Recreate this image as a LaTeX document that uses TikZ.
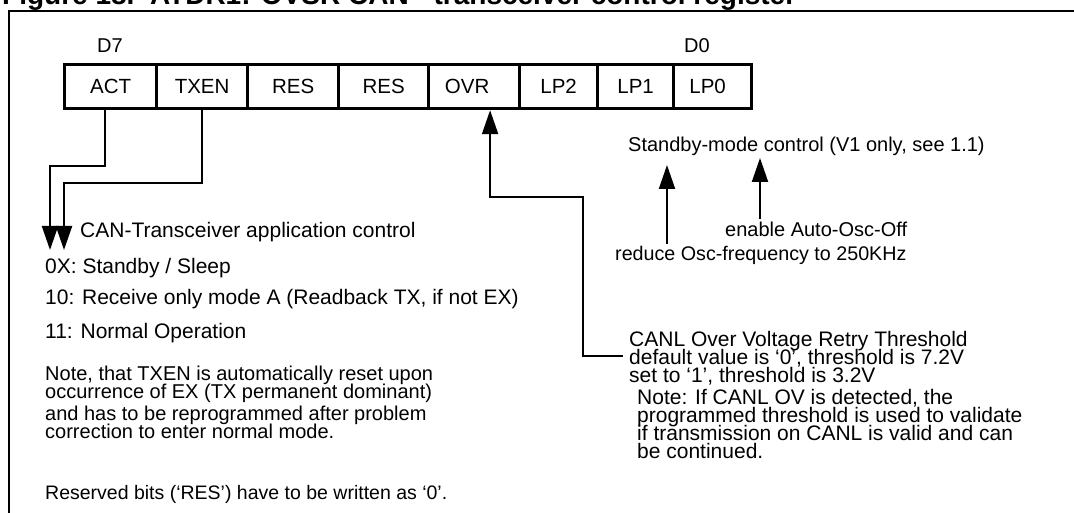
\documentclass[tikz,border=0pt]{standalone}
\usepackage{fontspec}
\setmainfont{Liberation Sans}
\usetikzlibrary{arrows.meta}
\newcommand\tightlines{\lineskiplimit=-50pt\lineskip=0pt}

\begin{document}
\begin{tikzpicture}[x=1pt,y=-1pt,
    bitcell/.style={draw,line width=3.2pt,minimum height=44pt,inner sep=0pt,anchor=north west,font=\fontsize{20.5}{20}\selectfont},
    txt/.style={anchor=base west,inner sep=0pt,font=\fontsize{20}{17.3}\selectfont\tightlines,align=left},
    bigtxt/.style={txt,font=\fontsize{21}{17.8}\selectfont\tightlines},
    sig/.style={line width=2pt},
    tip/.style={-{Triangle[length=24pt,width=16pt]}}]
    \useasboundingbox (0,0) rectangle (1074,513);
    % title and frame
    \node[anchor=base west,inner sep=0pt,font=\bfseries\fontsize{28}{28}\selectfont] (title) at (2,5) {Figure 18.\ \ ATDR1: OVSR CAN - transceiver control register};
    \draw[line width=2.5pt] (9,530) -- (9,11) -- (1090,11);

    % register bits
    \node[bitcell,minimum width=92pt] (act) at (63,63) {ACT};
    \node[bitcell,minimum width=91pt] (txen) at (155,63) {TXEN};
    \node[bitcell,minimum width=91pt] (res1) at (246,63) {RES};
    \node[bitcell,minimum width=90pt] (res2) at (337,63) {\raisebox{-2pt}{RES}};
    \node[bitcell,minimum width=91pt] (ovr) at (427,63) {\hspace*{-14pt}OVR};
    \node[bitcell,minimum width=78pt] (lp2) at (518,63) {LP2};
    \node[bitcell,minimum width=76pt] (lp1) at (596,63) {\raisebox{-2pt}{LP1}};
    \node[bitcell,minimum width=78pt] (lp0) at (672,63) {\hspace*{-10pt}LP0};
    \node[font=\fontsize{20}{20}\selectfont,inner sep=0pt] (d7) at (110,46) {D7};
    \node[font=\fontsize{20}{20}\selectfont,inner sep=0pt] (d0) at (697,46) {D0};

    % ACT / TXEN
    \node[bigtxt] (appl) at (80,238) {CAN-Transceiver application control};
    \node[bigtxt] (m0x) at (45,273) {0X: Standby / Sleep};
    \node[bigtxt] (m10) at (45,305) {10: Receive only mode A (Readback TX, if not EX)};
    \node[bigtxt] (m11) at (45,338) {11: Normal Operation};
    % base = last line
    \node[txt] (note1) at (45,398) {Note, that TXEN is automatically reset upon\\occurrence of EX (TX permanent dominant)};
    \node[txt] (note2) at (45,438) {and has to be reprogrammed after problem\\correction to enter normal mode.};
    \node[txt,font=\fontsize{19.5}{17.5}\selectfont] (resv) at (45,499) {Reserved bits (‘RES’) have to be written as ‘0’.};
    \coordinate (actTip) at (50,250);
    \coordinate (txenTip) at (64,250);
    \draw[sig,tip] ([xshift=-6pt]act.south) -- ++(0,56) -| (actTip);
    \draw[sig,tip] (txen.south) -- ++(0,73) -| (txenTip);

    % LP1 / LP0
    \node[txt] (stby) at (628,152) {Standby-mode control (V1 only, see 1.1)};
    \node[txt,inner sep=3pt] (osc) at (722,237) {enable Auto-Osc-Off};
    \node[txt,inner sep=3pt,font=\fontsize{19.7}{17.5}\selectfont] (freq) at (612,261) {reduce Osc-frequency to 250KHz};
    \coordinate (lp1up) at (667,165);
    \coordinate (lp0up) at (760,158);
    \draw[sig,tip] (lp1up |- freq.north) -- (lp1up);
    \draw[sig,tip] (lp0up |- osc.north) -- (lp0up);

    % OVR
    \node[bigtxt,anchor=west,inner sep=6pt] (canl) at (623,358) {CANL Over Voltage Retry Threshold\\default value is ‘0’, threshold is 7.2V\\set to ‘1’, threshold is 3.2V};
    \node[bigtxt] (ovnote) at (637,458) {Note: If CANL OV is detected, the\\programmed threshold is used to validate\\if transmission on CANL is valid and can\\be continued.};
    \coordinate (ovrBend) at (583,197);
    \draw[sig,tip] ([yshift=2pt]canl.west) -| (ovrBend) -| ([xshift=16pt]ovr.south);
\end{tikzpicture}
\end{document}
